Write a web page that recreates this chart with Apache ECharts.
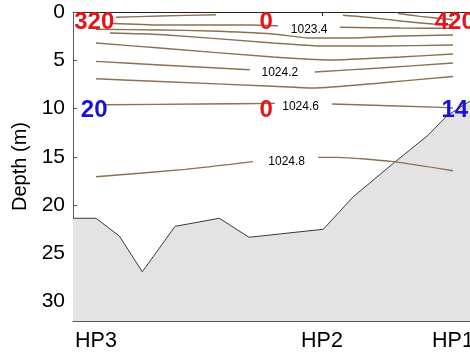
<!DOCTYPE html>
<html>
<head>
<meta charset="utf-8">
<script src="https://cdn.jsdelivr.net/npm/echarts@6/dist/echarts.min.js"></script>
<style>
  html, body { margin: 0; padding: 0; background: #fff; }
  #chart { width: 470px; height: 356px; }
</style>
</head>
<body>
<div id="chart"></div>
<script>
// Stations along the transect (distance in km from HP3)
const stations = ['HP3', 'HP2', 'HP1'];
const stationKm = [0, 6.33, 10];
const depthTicks = [0, 5, 10, 15, 20, 25, 30];

// Sea-floor profile
const bottomKm =    [-0.644, 0, 0.653, 1.297, 2.213, 3.454, 4.286, 6.367, 7.207, 8.328, 9.308, 9.824, 10.476];
const bottomDepth = [21.36, 21.36, 23.2, 26.9, 22.2, 21.36, 23.33, 22.5, 19.13, 15.67, 12.74, 10.77, 9.22];

// Density isolines (kg/m3), each as segments of [km, depth] pairs
const levels = [1023.0, 1023.2, 1023.4, 1023.6, 1023.8, 1024.0, 1024.2, 1024.4, 1024.6, 1024.8];
const iso1023_0 = [[[8.46, 0.16], [9.08, 0.45], [10, 0.80]]];
const iso1023_2 = [[[0.56, 0.55], [1.79, 0.41], [3.36, 0.28]],
                   [[6.92, 0.34], [7.68, 0.57], [8.60, 0.96], [9.44, 1.24], [10, 1.35]]];
const iso1023_4 = [[[0.39, 1.17], [1.79, 1.35], [4.31, 1.35], [5.10, 1.42]],
                   [[6.83, 1.58], [8.52, 1.66], [10, 1.69]]];
const iso1023_6 = [[[0, 1.79], [1.79, 1.86], [3.19, 1.97], [4.96, 2.28], [5.99, 2.69], [7.11, 2.69], [8.52, 2.49], [10, 2.38]]];
const iso1023_8 = [[[0.39, 2.17], [1.79, 2.33], [4.96, 3.21], [6.27, 3.52], [7.96, 3.52], [10, 3.42]]];
const iso1024_0 = [[[0, 3.21], [1.79, 3.73], [4.96, 4.66], [6.55, 4.97], [8.52, 4.66], [10, 4.35]]];
const iso1024_2 = [[[0, 5.11], [1.79, 5.49], [4.31, 5.98]],
                   [[6.13, 6.21], [7.96, 5.80], [10, 5.28]]];
const iso1024_4 = [[[0, 6.91], [1.79, 7.20], [4.96, 7.69], [6.08, 7.87], [7.96, 7.35], [10, 6.68]]];
const iso1024_6 = [[[0.28, 9.60], [2.90, 9.53], [5.01, 9.46]],
                   [[6.61, 9.53], [9.70, 9.88], [10, 9.94]]];
const iso1024_8 = [[[0, 17.06], [2.50, 16.30], [4.40, 15.50]],
                   [[6.22, 15.05], [6.75, 15.05], [8.32, 15.50], [10, 16.44]]];
const isolines = [iso1023_0, iso1023_2, iso1023_4, iso1023_6, iso1023_8,
                  iso1024_0, iso1024_2, iso1024_4, iso1024_6, iso1024_8];

// Inline isoline labels
const labelledLevels = [1023.4, 1024.2, 1024.6, 1024.8];
const labelAt = [[5.97, 1.83], [5.15, 6.32], [5.73, 9.81], [5.34, 15.50]];

// Station readings at the surface and at 10 m
const surfaceValues = [320, 0, 420];
const tenMetreValues = [20, 0, 14];
const surfaceColors = ['#e6141a', '#e6141a', '#e6141a'];
const tenMetreColors = ['#1414d2', '#e6141a', '#1414d2'];
const readingKm = [-0.05, 4.77, 10.05];
const readingDepth = [1.12, 10.2];

const FONT = 'Arial, "Liberation Sans", sans-serif';
const X_MIN = -0.644, X_MAX = 10.476;

const series = [];

// Sea floor
series.push({
  type: 'line',
  data: bottomKm.map((k, i) => [k, bottomDepth[i]]),
  symbol: 'none',
  lineStyle: { color: '#3a3a3a', width: 1 },
  areaStyle: { color: '#e3e3e3', opacity: 1, origin: 'end' },
  z: 1,
  silent: true
});

// Isolines
isolines.forEach((segs) => {
  segs.forEach((seg) => {
    series.push({
      type: 'line',
      data: seg,
      symbol: 'none',
      smooth: 0.2,
      lineStyle: { color: '#8a7150', width: 1.4 },
      z: 3,
      silent: true
    });
  });
});

// Isoline labels
series.push({
  type: 'scatter',
  symbolSize: 1,
  itemStyle: { color: 'rgba(0,0,0,0)' },
  data: labelledLevels.map((lv, i) => [labelAt[i][0], labelAt[i][1], lv]),
  label: {
    show: true, position: 'inside',
    formatter: (p) => p.value[2].toFixed(1),
    fontFamily: FONT, fontSize: 12, color: '#000',
    textBorderWidth: 0, opacity: 1
  },
  z: 5, silent: true
});

// Station readings
function readings(values, colors, depth) {
  return {
    type: 'scatter',
    symbolSize: 1,
    itemStyle: { color: 'rgba(0,0,0,0)' },
    data: values.map((v, i) => ({
      value: [readingKm[i], depth, v],
      label: { color: colors[i] }
    })),
    label: {
      show: true, position: 'inside',
      formatter: (p) => String(p.value[2]),
      fontFamily: FONT, fontSize: 24, fontWeight: 'bold',
      textBorderWidth: 0, opacity: 1
    },
    z: 6, silent: true
  };
}
series.push(readings(surfaceValues, surfaceColors, readingDepth[0]));
series.push(readings(tenMetreValues, tenMetreColors, readingDepth[1]));

const chart = echarts.init(document.getElementById('chart'), null, { renderer: 'canvas' });
chart.setOption({
  animation: false,
  backgroundColor: '#fff',
  grid: { left: 73, top: 12, right: 0, bottom: 35, containLabel: false, outerBoundsMode: 'none' },
  xAxis: [
    {
      type: 'value', position: 'bottom', min: X_MIN, max: X_MAX,
      splitLine: { show: false },
      axisLine: { show: true, onZero: false, lineStyle: { color: '#5a5a5a', width: 1 } },
      axisTick: { show: false },
      axisLabel: {
        customValues: stationKm,
        hideOverlap: false,
        formatter: (v) => {
          let best = 0;
          stationKm.forEach((k, i) => { if (Math.abs(k - v) < Math.abs(stationKm[best] - v)) best = i; });
          return stations[best];
        },
        fontFamily: FONT, fontSize: 21.5, color: '#000', margin: 9
      }
    },
    {
      type: 'value', position: 'top', min: X_MIN, max: X_MAX,
      splitLine: { show: false },
      axisLine: { show: true, onZero: false, lineStyle: { color: '#222', width: 1 } },
      axisTick: { show: true, inside: true, length: 4, customValues: stationKm, lineStyle: { color: '#222' } },
      axisLabel: { show: false }
    }
  ],
  yAxis: {
    type: 'value', inverse: true, min: 0, max: 32, interval: 5,
    name: 'Depth (m)', nameLocation: 'middle', nameRotate: 90, nameGap: 34,
    nameTextStyle: { fontFamily: FONT, fontSize: 20, color: '#000' },
    splitLine: { show: false },
    axisLine: { show: true, onZero: false, lineStyle: { color: '#5a5a5a', width: 1 } },
    axisTick: { show: true, inside: true, length: 4, customValues: depthTicks, lineStyle: { color: '#5a5a5a' } },
    axisLabel: {
      customValues: depthTicks,
      fontFamily: FONT, fontSize: 21, color: '#000', margin: 8
    }
  },
  series: series
});
</script>
</body>
</html>
